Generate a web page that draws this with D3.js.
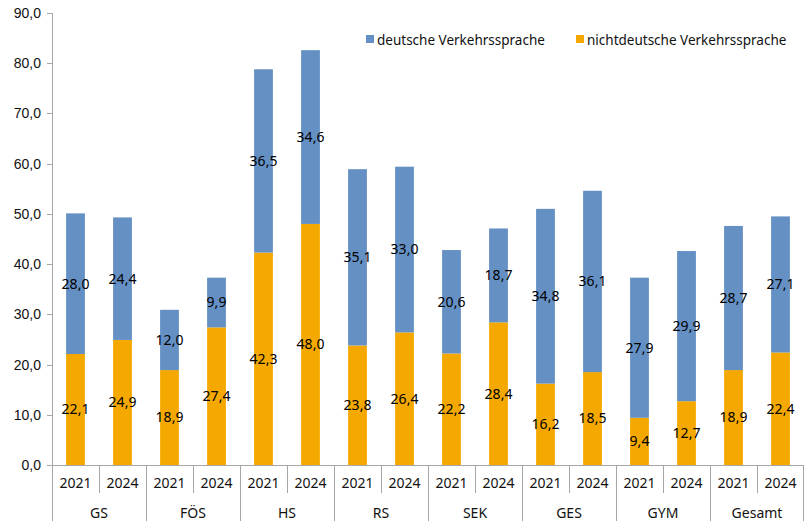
<!DOCTYPE html>
<html>
<head>
<meta charset="utf-8">
<script src="https://d3js.org/d3.v7.min.js"></script>
<style>
body { margin: 0; background: #fff; }
svg { font-family: "Noto Sans", sans-serif; }
.axis text { font-size: 14px; fill: #111; }
.axis path, .axis line { stroke: #a6a6a6; shape-rendering: crispEdges; }
</style>
</head>
<body>
<svg width="804" height="524"></svg>
<script>
var groups = ["GS", "FÖS", "HS", "RS", "SEK", "GES", "GYM", "Gesamt"];
var years = ["2021", "2024"];
// je Gruppe: 2021, 2024
var nichtdeutsch = [22.1, 24.9, 18.9, 27.4, 42.3, 48.0, 23.8, 26.4, 22.2, 28.4, 16.2, 18.5, 9.4, 12.7, 18.9, 22.4];
var deutsch = [28.0, 24.4, 12.0, 9.9, 36.5, 34.6, 35.1, 33.0, 20.6, 18.7, 34.8, 36.1, 27.9, 29.9, 28.7, 27.1];
var yTicks = [0, 10, 20, 30, 40, 50, 60, 70, 80, 90];
var seriesNames = ["deutsche Verkehrssprache", "nichtdeutsche Verkehrssprache"];
var colors = ["#6590c4", "#f5a800"];

var svg = d3.select("svg"),
    margin = {top: 13, right: 0, bottom: 59, left: 52},
    width = +svg.attr("width") - margin.left - margin.right,
    height = +svg.attr("height") - margin.top - margin.bottom,
    g = svg.append("g").attr("transform", "translate(" + margin.left + "," + margin.top + ")");

var fmt = function(v) { return d3.format(".1f")(v).replace(".", ","); };

var data = [];
groups.forEach(function(gr, i) {
  years.forEach(function(yr, j) {
    var k = i * 2 + j;
    data.push({key: gr + "|" + yr, group: gr, year: yr, nd: nichtdeutsch[k], d: deutsch[k]});
  });
});

var x = d3.scaleBand().domain(data.map(function(d) { return d.key; })).range([0, width]).paddingInner(0).paddingOuter(0);
var y = d3.scaleLinear().domain([0, 90]).range([height, 0]);

var bw = x.bandwidth() * 0.4;

// y axis
var yAxis = g.append("g").attr("class", "axis")
  .call(d3.axisLeft(y).tickValues(yTicks).tickSize(5).tickPadding(6).tickFormat(fmt));
yAxis.select(".domain").attr("d", "M0.5," + y(90) + "V" + y(0));

// bars
var bars = g.append("g").selectAll("g").data(data).enter().append("g")
  .attr("transform", function(d) { return "translate(" + (x(d.key) + (x.bandwidth() - bw) / 2) + ",0)"; });

bars.append("rect")
  .attr("y", function(d) { return y(d.nd); })
  .attr("height", function(d) { return y(0) - y(d.nd); })
  .attr("width", bw)
  .attr("fill", colors[1]);

bars.append("rect")
  .attr("y", function(d) { return y(d.nd + d.d); })
  .attr("height", function(d) { return y(d.nd) - y(d.nd + d.d); })
  .attr("width", bw)
  .attr("fill", colors[0]);

bars.append("text")
  .attr("x", bw / 2)
  .attr("y", function(d) { return y(d.nd / 2); })
  .attr("dy", "0.35em")
  .attr("text-anchor", "middle")
  .attr("font-size", 14)
  .attr("fill", "#000")
  .text(function(d) { return fmt(d.nd); });

bars.append("text")
  .attr("x", bw / 2)
  .attr("y", function(d) { return y(d.nd + d.d / 2); })
  .attr("dy", "0.35em")
  .attr("text-anchor", "middle")
  .attr("font-size", 14)
  .attr("fill", "#000")
  .text(function(d) { return fmt(d.d); });

// x axis: two levels
var xa = g.append("g").attr("class", "axis").attr("transform", "translate(0," + height + ")");
xa.append("line").attr("x1", -5).attr("x2", width).attr("y1", 0.5).attr("y2", 0.5);

data.forEach(function(d, i) {
  var x0 = Math.round(x(d.key)) + 0.5;
  xa.append("line").attr("x1", x0).attr("x2", x0).attr("y1", 0).attr("y2", i % 2 === 0 ? 56 : 28);
  xa.append("text")
    .attr("x", x(d.key) + x.bandwidth() / 2)
    .attr("y", 18)
    .attr("dy", "0.35em")
    .attr("text-anchor", "middle")
    .text(d.year);
});
xa.append("line").attr("x1", width - 0.5).attr("x2", width - 0.5).attr("y1", 0).attr("y2", 56);

groups.forEach(function(gr) {
  xa.append("text")
    .attr("x", x(gr + "|2021") + x.bandwidth())
    .attr("y", 48)
    .attr("dy", "0.35em")
    .attr("text-anchor", "middle")
    .text(gr);
});

// legend
var legend = svg.append("g").attr("font-size", 13.5).attr("fill", "#111");
var lx = [366, 576];
seriesNames.forEach(function(name, i) {
  legend.append("rect").attr("x", lx[i]).attr("y", 35).attr("width", 8).attr("height", 8).attr("fill", colors[i]);
  legend.append("text").attr("x", lx[i] + 11).attr("y", 40).attr("dy", "0.35em").text(name);
});
</script>
</body>
</html>
